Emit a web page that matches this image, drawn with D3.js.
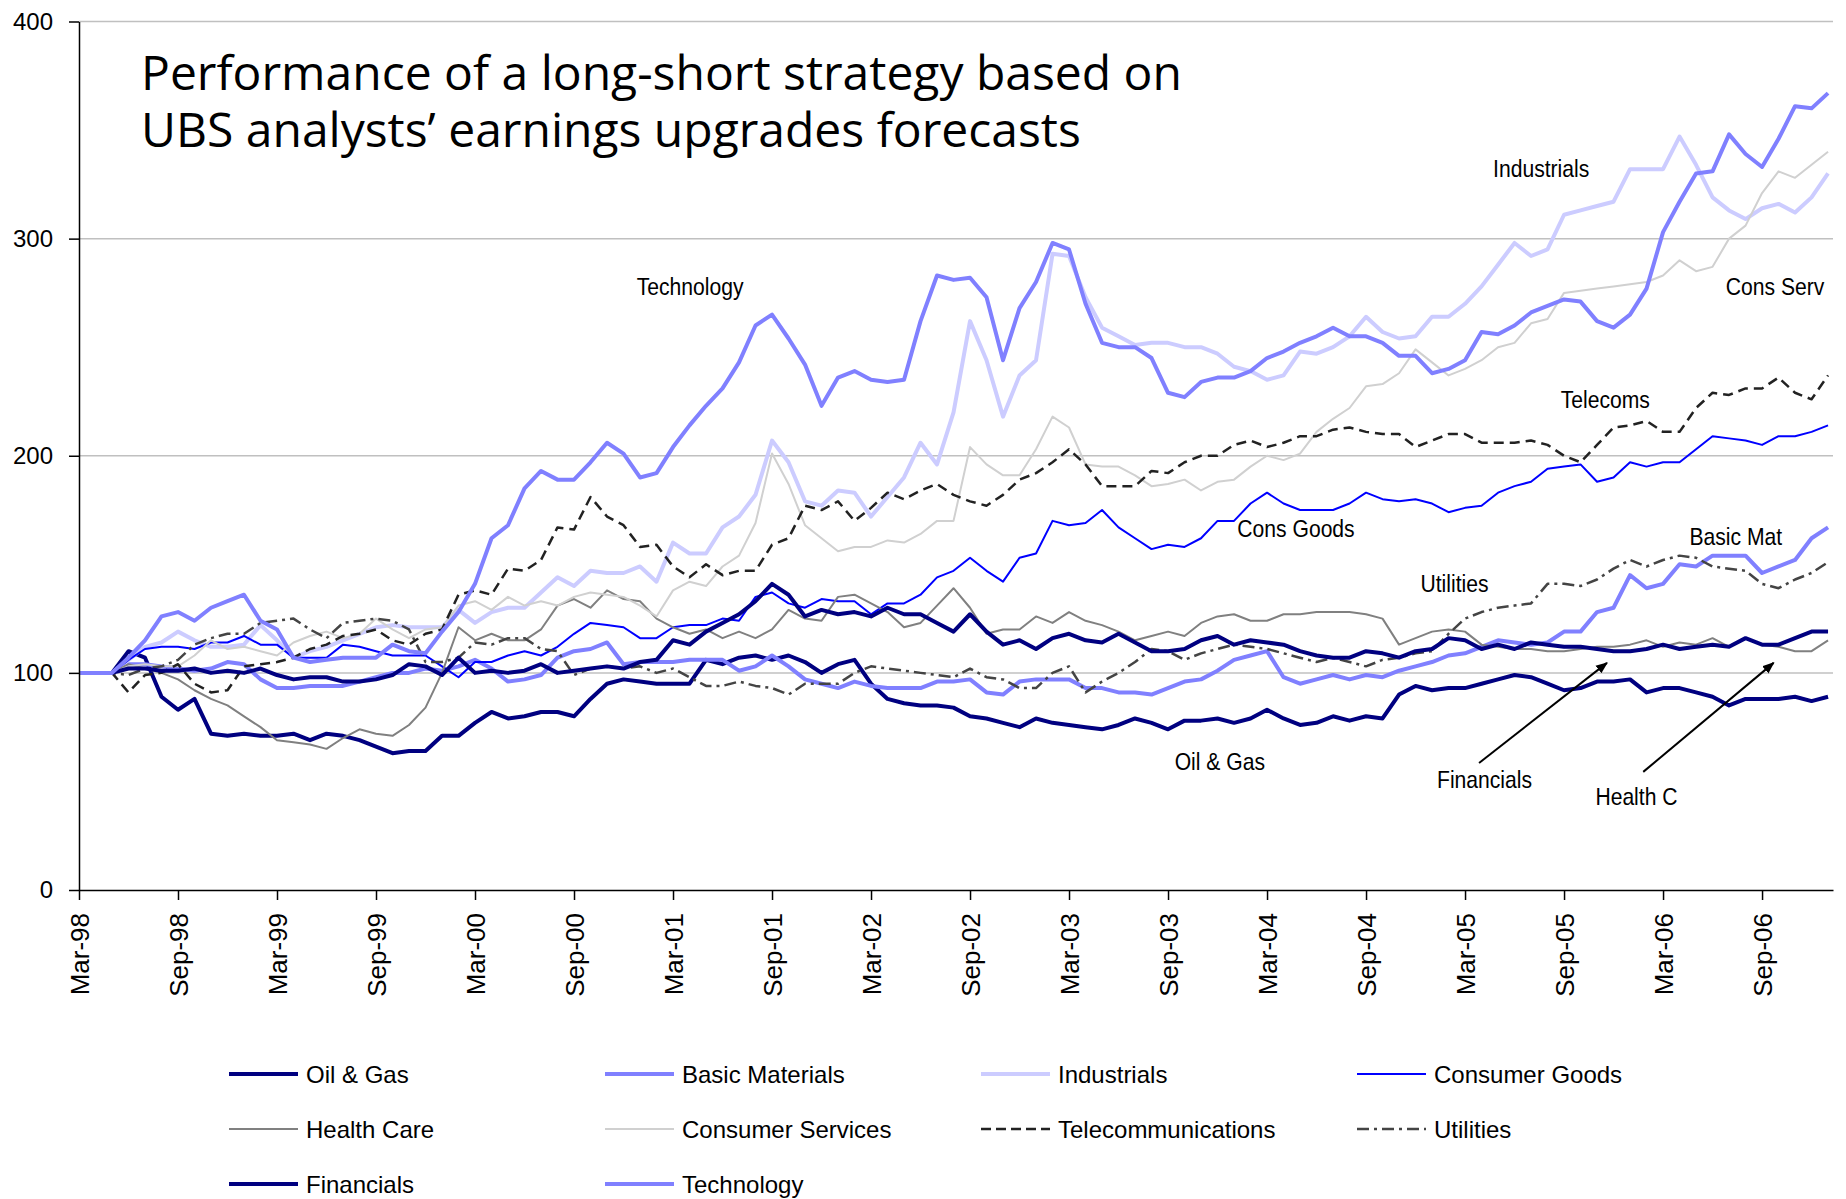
<!DOCTYPE html>
<html>
<head>
<meta charset="utf-8">
<script src="https://cdn.jsdelivr.net/npm/d3@7"></script>
<style>
  body { margin: 0; background: #fff; }
  svg { display: block; }
</style>
</head>
<body>
<div id="chart"></div>
<script>
// Monthly index: 0 = Mar-98 ... 106 = Jan-07
const tickLabels = ["Mar-98","Sep-98","Mar-99","Sep-99","Mar-00","Sep-00","Mar-01","Sep-01","Mar-02",
  "Sep-02","Mar-03","Sep-03","Mar-04","Sep-04","Mar-05","Sep-05","Mar-06","Sep-06"];
const yTicks = [0, 100, 200, 300, 400];

const seriesNames = ["Oil & Gas","Basic Materials","Industrials","Consumer Goods","Health Care",
  "Consumer Services","Telecommunications","Utilities","Financials","Technology"];

const oilGas = [100,100,100,110,107,89,83,88,72,71, 72,71,71,72,69,72,71,69,66,63,
  64,64,71,71,77,82,79,80,82,82, 80,88,95,97,96,95,95,95,106,104,
  107,108,106,108,105,100,104,106,95,88, 86,85,85,84,80,79,77,75,79,77,
  76,75,74,76,79,77,74,78,78,79, 77,79,83,79,76,77,80,78,80,79,
  90,94,92,93,93,95,97,99,98,95, 92,93,96,96,97,91,93,93,91,89,
  85,88,88,88,89,87,89];

const basicMaterials = [100,100,100,104,104,103,102,101,102,105, 104,97,93,93,94,94,94,96,98,100,
  100,102,101,103,106,102,96,97,99,107, 110,111,114,104,105,105,105,106,106,106,
  101,103,108,103,97,95,93,96,94,93, 93,93,96,96,97,91,90,96,97,97,
  97,93,93,91,91,90,93,96,97,101, 106,108,110,98,95,97,99,97,99,98,
  101,103,105,108,109,112,115,114,113,114, 119,119,128,130,145,139,141,150,149,154,
  154,154,146,149,152,162,167];

const industrials = [100,100,100,106,112,114,119,115,112,112, 113,122,115,107,110,112,115,118,121,122,
  121,121,121,129,123,128,130,130,137,144, 140,147,146,146,149,142,160,155,155,167,
  172,182,207,197,179,177,184,183,172,181, 190,206,196,220,262,244,218,237,244,293,
  292,273,259,255,251,252,252,250,250,247, 241,239,235,237,248,247,250,255,264,257,
  254,255,264,264,270,278,288,298,292,295, 311,313,315,317,332,332,332,347,334,319,
  313,309,314,316,312,319,330];

const consumerGoods = [100,100,100,106,111,112,112,111,114,114, 117,113,113,107,107,107,113,112,110,108,
  108,108,103,98,105,105,108,110,108,112, 118,123,122,121,116,116,121,122,122,125,
  124,135,137,132,130,134,133,133,127,132, 132,136,144,147,153,147,142,153,155,170,
  168,169,175,167,162,157,159,158,162,170, 170,178,183,178,175,175,175,178,183,180,
  179,180,178,174,176,177,183,186,188,194, 195,196,188,190,197,195,197,197,203,209,
  208,207,205,209,209,211,214];

const healthCare = [100,100,100,104,102,100,97,92,88,85, 80,75,69,68,67,65,70,74,72,71,
  76,84,100,121,115,118,115,115,120,131, 134,130,138,134,133,125,121,118,120,116,
  119,116,120,129,125,124,135,136,132,128, 121,123,131,139,130,118,120,120,126,123,
  128,124,122,119,115,117,119,117,123,126, 127,124,124,127,127,128,128,128,127,125,
  113,116,119,120,119,113,112,111,111,110, 110,111,112,112,113,115,112,114,113,116,
  112,116,113,112,110,110,115];

const consumerServices = [100,100,100,103,104,103,103,108,115,111, 112,110,108,114,117,119,116,118,125,120,
  116,120,121,131,133,129,135,131,133,131, 135,137,136,135,131,126,138,142,140,149,
  154,169,201,187,168,162,156,158,158,161, 160,164,170,170,204,196,191,191,203,218,
  213,196,195,195,191,186,187,189,184,188, 189,195,200,198,201,211,217,222,232,233,
  238,249,243,237,240,244,250,252,261,263, 275,276,277,278,279,280,283,290,285,287,
  300,306,321,331,328,334,340];

const telecoms = [100,100,100,91,99,100,104,95,91,92, 103,104,105,107,111,113,117,118,120,115,
  113,118,120,136,138,136,148,147,152,167, 166,181,172,168,158,159,149,144,150,145,
  147,147,159,162,177,175,179,170,176,183, 180,184,187,182,179,177,182,189,192,197,
  203,196,186,186,186,193,192,197,200,200, 205,207,204,206,209,209,212,213,211,210,
  210,204,207,210,210,206,206,206,207,205, 200,197,205,213,214,216,211,211,222,229,
  228,231,231,236,229,226,237];

const utilities = [100,100,100,99,102,103,106,113,116,118, 118,123,124,125,120,116,123,124,125,124,
  120,105,105,107,114,113,116,116,111,110, 99,102,103,102,103,100,102,98,94,94,
  96,94,93,90,95,95,95,100,103,102, 101,100,99,98,102,98,97,93,93,100,
  103,91,96,100,105,111,110,106,109,111, 113,112,111,109,107,105,107,105,103,106,
  107,109,110,118,125,128,130,131,132,141, 141,140,143,148,152,149,152,154,153,149,
  148,147,141,139,143,146,151];

const financials = [100,100,100,102,102,101,101,102,100,101, 100,102,99,97,98,98,96,96,97,99,
  104,103,99,107,100,101,100,101,104,100, 101,102,103,102,105,106,115,113,119,123,
  127,133,141,136,126,129,127,128,126,130, 127,127,123,119,127,119,113,115,111,116,
  118,115,114,118,114,110,110,111,115,117, 113,115,114,113,110,108,107,107,110,109,
  107,110,111,116,115,111,113,111,114,113, 112,112,111,110,110,111,113,111,112,113,
  112,116,113,113,116,119,119];

const technology = [100,100,100,107,115,126,128,124,130,133, 136,124,120,107,105,106,107,107,107,113,
  110,109,119,128,141,162,168,185,193,189, 189,197,206,201,190,192,204,214,223,231,
  243,260,265,254,242,223,236,239,235,234, 235,262,283,281,282,273,244,268,280,298,
  295,270,252,250,250,245,229,227,234,236, 236,239,245,248,252,255,259,255,255,252,
  246,246,238,240,244,257,256,260,266,269, 272,271,262,259,265,277,303,317,330,331,
  348,339,333,346,361,360,367];

const seriesValues = [oilGas, basicMaterials, industrials, consumerGoods, healthCare,
  consumerServices, telecoms, utilities, financials, technology];

// styles, same order as seriesNames
const seriesStyle = [
  { color: "#000080", width: 4 },
  { color: "#8080ff", width: 4 },
  { color: "#ccccff", width: 4 },
  { color: "#0000ff", width: 2 },
  { color: "#808080", width: 2 },
  { color: "#d0d0d0", width: 2 },
  { color: "#222222", width: 2.5, dash: "10,6" },
  { color: "#444444", width: 2.5, dash: "12,5,3,5" },
  { color: "#000080", width: 4 },
  { color: "#8080ff", width: 4 }
];

// chart annotations: label, month index, value (baseline-left)
const labelText = ["Industrials","Technology","Cons Serv","Telecoms","Cons Goods","Basic Mat",
  "Utilities","Oil & Gas","Financials","Health C"];
const labelAt = [[85.7,328.6],[33.8,274.2],[99.8,274.2],[89.8,222.1],[70.2,162.7],[97.6,159],
  [81.3,137.3],[66.4,55.3],[82.3,47],[91.9,39.2]];
const arrowFrom = [[84.85,58.5],[94.8,54.4]];
const arrowTo = [[92.6,104.6],[102.7,104.6]];

const titleLines = ["Performance of a long-short strategy based on",
  "UBS analysts\u2019 earnings upgrades forecasts"];

const W = 1846, H = 1199;
const plot = { left: 79, right: 1833, top: 21.5, bottom: 890 };
const font = "'Liberation Sans', Arial, sans-serif";

const x = d3.scaleLinear().domain([0, 106.3]).range([plot.left, plot.right]);
const y = d3.scaleLinear().domain([0, 400]).range([plot.bottom, plot.top]);

const svg = d3.select("#chart").append("svg")
  .attr("width", W).attr("height", H)
  .style("background", "#fff");

// gridlines
svg.append("g")
  .selectAll("line")
  .data(yTicks.filter((d) => d > 0))
  .join("line")
  .attr("x1", plot.left).attr("x2", plot.right)
  .attr("y1", (d) => y(d)).attr("y2", (d) => y(d))
  .attr("stroke", "#c0c0c0").attr("stroke-width", 1.5);

// title (one text element, two lines)
const title = svg.append("text")
  .attr("x", 141).attr("y", 90)
  .attr("font-family", "'Open Sans', 'Noto Sans', sans-serif")
  .attr("font-size", 48).attr("fill", "#000");
titleLines.forEach((t, k) => {
  title.append("tspan").attr("x", 141).attr("dy", k === 0 ? 0 : 57).text(t);
});

// lines
const line = d3.line().x((d, i) => x(i)).y((d) => y(d));
const lines = svg.append("g").attr("fill", "none").attr("stroke-linejoin", "round");
seriesValues.forEach((vals, k) => {
  const s = seriesStyle[k];
  lines.append("path")
    .datum(vals)
    .attr("d", line)
    .attr("stroke", s.color)
    .attr("stroke-width", s.width)
    .attr("stroke-dasharray", s.dash || null);
});

// axes
const gy = svg.append("g")
  .attr("transform", `translate(${plot.left},0)`)
  .call(d3.axisLeft(y).tickValues(yTicks).tickSize(10).tickSizeOuter(0).tickPadding(16));
const gx = svg.append("g")
  .attr("transform", `translate(0,${plot.bottom})`)
  .call(d3.axisBottom(x).tickValues(d3.range(0, 103, 6))
    .tickFormat((d, i) => tickLabels[i]).tickSize(10).tickSizeOuter(0));
[gx, gy].forEach((g) => {
  g.select(".domain").attr("stroke", "#000").attr("stroke-width", 1.5);
  g.selectAll(".tick line").attr("stroke", "#000").attr("stroke-width", 1.5);
  g.selectAll(".tick text").attr("font-family", font).attr("fill", "#000");
});
gy.selectAll(".tick text").attr("font-size", 24);
gx.selectAll(".tick text")
  .attr("font-size", 26)
  .attr("transform", "rotate(-90)")
  .attr("text-anchor", "end")
  .attr("x", -23).attr("y", 0).attr("dy", "0.35em");

// annotations
const ann = svg.append("g").attr("font-family", font).attr("font-size", 24).attr("fill", "#000");
labelText.forEach((t, k) => {
  ann.append("text")
    .attr("transform", `translate(${x(labelAt[k][0])},${y(labelAt[k][1])}) scale(0.88,1)`)
    .text(t);
});

svg.append("defs").append("marker")
  .attr("id", "arrow").attr("viewBox", "0 0 10 10")
  .attr("refX", 9).attr("refY", 5)
  .attr("markerWidth", 6).attr("markerHeight", 6)
  .attr("orient", "auto")
  .append("path").attr("d", "M0,1 L10,5 L0,9 Z").attr("fill", "#000");

arrowFrom.forEach((a, k) => {
  svg.append("line")
    .attr("x1", x(a[0])).attr("y1", y(a[1]))
    .attr("x2", x(arrowTo[k][0])).attr("y2", y(arrowTo[k][1]))
    .attr("stroke", "#000").attr("stroke-width", 2)
    .attr("marker-end", "url(#arrow)");
});

// legend
const legend = svg.append("g").attr("font-family", font).attr("font-size", 24);
seriesNames.forEach((name, k) => {
  const col = k % 4, row = Math.floor(k / 4);
  const lx = 229 + col * 376, ly = 1074 + row * 55;
  const s = seriesStyle[k];
  legend.append("line")
    .attr("x1", lx).attr("x2", lx + 69)
    .attr("y1", ly).attr("y2", ly)
    .attr("stroke", s.color)
    .attr("stroke-width", s.width)
    .attr("stroke-dasharray", s.dash ? (k === 6 ? "10,5" : s.dash) : null);
  legend.append("text")
    .attr("x", lx + 77).attr("y", ly + 8.5)
    .attr("fill", "#000")
    .text(name);
});
</script>
</body>
</html>
